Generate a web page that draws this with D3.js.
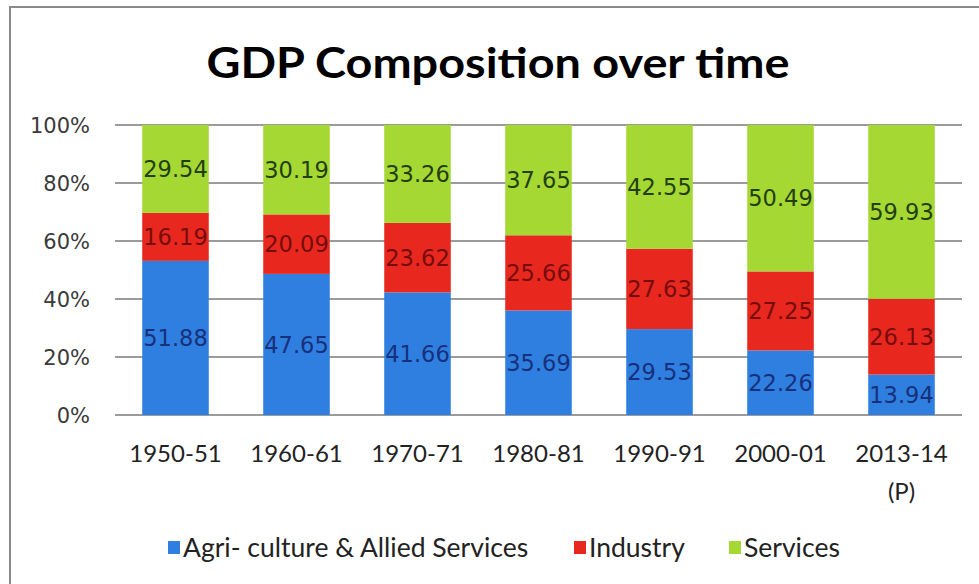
<!DOCTYPE html>
<html>
<head>
<meta charset="utf-8">
<script src="https://cdn.jsdelivr.net/npm/d3@7"></script>
<style>
  html, body { margin: 0; padding: 0; background: #fff; }
  svg { display: block; }
</style>
</head>
<body>
<svg id="chart" width="979" height="584"></svg>
<script>
// GDP composition by sector, shares stacked to 100%
const categories = ["1950-51", "1960-61", "1970-71", "1980-81", "1990-91", "2000-01", "2013-14\n(P)"];
const agriculture = [51.88, 47.65, 41.66, 35.69, 29.53, 22.26, 13.94];
const industry    = [16.19, 20.09, 23.62, 25.66, 27.63, 27.25, 26.13];
const services    = [29.54, 30.19, 33.26, 37.65, 42.55, 50.49, 59.93];
const seriesNames = ["Agri- culture & Allied Services", "Industry", "Services"];
const yTicks = [0, 0.2, 0.4, 0.6, 0.8, 1.0];

const seriesKeys = ["agri", "ind", "serv"];
const fills  = { agri: "#2f7fe0", ind: "#e8281e", serv: "#a5d833" };
const inks   = { agri: "#17307c", ind: "#760c0c", serv: "#233f0c" };

const rows = categories.map((c, i) => ({
  cat: c, agri: agriculture[i], ind: industry[i], serv: services[i]
}));

const svg = d3.select("#chart");

// outer frame
svg.append("rect")
  .attr("x", 10).attr("y", 7)
  .attr("width", 1000).attr("height", 600)
  .attr("fill", "#fff").attr("stroke", "#8a8a8a").attr("stroke-width", 2);

const plotLeft = 115, plotRight = 962, plotTop = 125, plotBottom = 415;

const x = d3.scaleBand().domain(categories).range([plotLeft, plotRight])
  .paddingInner(0.45).paddingOuter(0.225);
const y = d3.scaleLinear().domain([0, 1]).range([plotBottom, plotTop]);

// title
svg.append("text")
  .attr("x", 498).attr("y", 78)
  .attr("text-anchor", "middle")
  .attr("font-family", "Lato, 'Open Sans', sans-serif")
  .attr("font-weight", 700)
  .attr("font-size", 42)
  .attr("fill", "#000")
  .attr("textLength", 583).attr("lengthAdjust", "spacingAndGlyphs")
  .text("GDP Composition over time");

// gridlines
svg.append("g").selectAll("line").data(yTicks).join("line")
  .attr("x1", plotLeft).attr("x2", plotRight)
  .attr("y1", d => y(d)).attr("y2", d => y(d))
  .attr("stroke", "#7a7a7a").attr("stroke-width", 1.6);

// y axis labels
const yAxis = d3.axisLeft(y).tickValues(yTicks).tickFormat(d3.format(".0%")).tickSize(0).tickPadding(0);
const yg = svg.append("g").attr("transform", `translate(${plotLeft - 25},0)`).call(yAxis);
yg.select(".domain").remove();
yg.selectAll("text")
  .attr("font-family", "'DejaVu Sans', Verdana, sans-serif")
  .attr("font-size", 21)
  .attr("fill", "#3a3a3a")
  .attr("dy", "0.35em");

// stacked, normalised bars
const stack = d3.stack().keys(seriesKeys).offset(d3.stackOffsetExpand);
const layers = stack(rows);

const gBars = svg.append("g");
layers.forEach(layer => {
  const key = layer.key;
  gBars.append("g").selectAll("rect").data(layer).join("rect")
    .attr("x", d => x(d.data.cat))
    .attr("width", x.bandwidth())
    .attr("y", d => y(d[1]))
    .attr("height", d => y(d[0]) - y(d[1]))
    .attr("fill", fills[key]);
});

// value labels
layers.forEach(layer => {
  const key = layer.key;
  gBars.append("g").selectAll("text").data(layer).join("text")
    .attr("x", d => x(d.data.cat) + x.bandwidth() / 2)
    .attr("y", d => (y(d[0]) + y(d[1])) / 2)
    .attr("dy", "0.36em")
    .attr("text-anchor", "middle")
    .attr("font-family", "'DejaVu Sans', Verdana, sans-serif")
    .attr("font-size", 22.5)
    .attr("fill", inks[key])
    .text(d => d.data[key].toFixed(2));
});

// x axis labels
const xAxis = d3.axisBottom(x).tickSize(0).tickPadding(0).tickFormat("");
const xg = svg.append("g").attr("transform", `translate(0,${plotBottom})`).call(xAxis);
xg.select(".domain").remove();
xg.selectAll(".tick").each(function(d) {
  const lines = d.split("\n");
  const t = d3.select(this).append("text")
    .attr("text-anchor", "middle")
    .attr("font-family", "Lato, 'Open Sans', sans-serif")
    .attr("font-size", 24)
    .attr("fill", "#222");
  lines.forEach((ln, i) => {
    t.append("tspan").attr("x", 0).attr("y", 47 + i * 38).text(ln);
  });
});

// legend
const legendX = [168, 574, 729];
const lg = svg.append("g");
seriesKeys.forEach((k, i) => {
  const g = lg.append("g").attr("transform", `translate(${legendX[i]},541)`);
  g.append("rect").attr("width", 12).attr("height", 13).attr("fill", fills[k]);
  g.append("text")
    .attr("x", 15).attr("y", 16)
    .attr("font-family", "Lato, 'Open Sans', sans-serif")
    .attr("font-size", 26.5)
    .attr("fill", "#222")
    .text(seriesNames[i]);
});
</script>
</body>
</html>
